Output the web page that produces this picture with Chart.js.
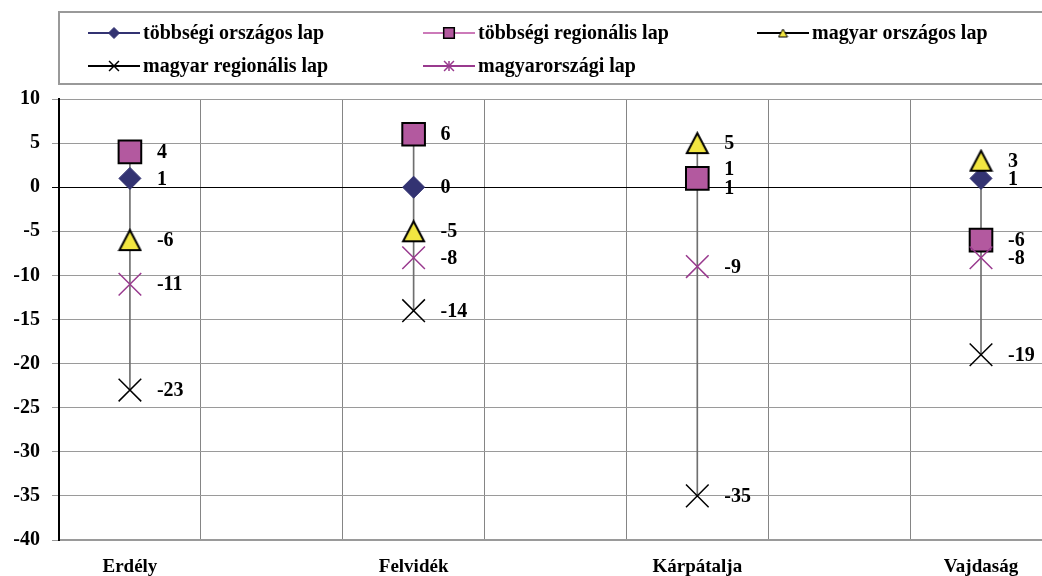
<!DOCTYPE html>
<html>
<head>
<meta charset="utf-8">
<script src="https://cdn.jsdelivr.net/npm/chart.js@4.4.1/dist/chart.umd.min.js"></script>
<style>
  html, body { margin: 0; padding: 0; background: #fff; overflow: hidden; }
  #wrap { width: 1042px; height: 576px; }
</style>
</head>
<body>
<div id="wrap"><canvas id="chart" width="1042" height="576"></canvas></div>
<script>
// ── Adatok ──────────────────────────────────────────────────────────────
const categories = ["Erdély", "Felvidék", "Kárpátalja", "Vajdaság"];
const catPos = [0.5, 2.5, 4.5, 6.5];          // kategóriák helye a rácson
const yTickValues = [-40, -35, -30, -25, -20, -15, -10, -5, 0, 5, 10];

const seriesNames = [
    "többségi országos lap",
    "többségi regionális lap",
    "magyar országos lap",
    "magyar regionális lap",
    "magyarországi lap",
];
const tobbsegiOrszagos   = [1, 0, 1, 1];
const tobbsegiRegionalis = [4, 6, 1, -6];
const magyarOrszagos     = [-6, -5, 5, 3];
const magyarRegionalis   = [-23, -14, -35, -19];
const magyarorszagi      = [-11, -8, -9, -8];

const series = [tobbsegiOrszagos, tobbsegiRegionalis, magyarOrszagos, magyarRegionalis, magyarorszagi];

// ── Stílus ──────────────────────────────────────────────────────────────
const FONT = "'Liberation Serif', 'DejaVu Serif', serif";
const NAVY = "#333372";
const PINK = "#b3599f";
const PINK_LINE = "#cc7ab9";
const YELLOW = "#f2e641";
const PURPLE = "#993a8e";

function triangleImage(w, h, lw) {
    const c = document.createElement("canvas");
    c.width = w + lw * 2;
    c.height = h + lw * 2;
    const g = c.getContext("2d");
    g.beginPath();
    g.moveTo(c.width / 2, lw);
    g.lineTo(c.width - lw, c.height - lw);
    g.lineTo(lw, c.height - lw);
    g.closePath();
    g.fillStyle = YELLOW;
    g.fill();
    g.lineWidth = lw;
    g.strokeStyle = "#000";
    g.stroke();
    return c;
}

const triBig = triangleImage(21, 20, 2);
const triSmall = triangleImage(9, 8, 1);

const toXY = (arr) => arr.map((v, i) => ({ x: catPos[i], y: v }));

// min–max (high-low) vonalak
const hiLow = categories.map((c, i) => {
    const vals = series.map((s) => s[i]);
    return { x: catPos[i], y: [Math.min(...vals), Math.max(...vals)] };
});

const pointStyles = [
    { pointStyle: "rectRot", pointRadius: 11, backgroundColor: NAVY, borderColor: NAVY, borderWidth: 1, lineColor: NAVY, legendStyle: "rectRot", legendRadius: 5.5 },
    { pointStyle: "rect", pointRadius: 16, backgroundColor: PINK, borderColor: "#000", borderWidth: 2, lineColor: PINK_LINE, legendStyle: "rect", legendRadius: 7.5 },
    { pointStyle: triBig, pointRadius: 12, backgroundColor: YELLOW, borderColor: "#000", borderWidth: 2, lineColor: "#000", legendStyle: triSmall, legendRadius: 5 },
    { pointStyle: "crossRot", pointRadius: 16, backgroundColor: "#000", borderColor: "#000", borderWidth: 1.5, lineColor: "#000", legendStyle: "crossRot", legendRadius: 7 },
    { pointStyle: "crossRot", pointRadius: 16, backgroundColor: PURPLE, borderColor: PURPLE, borderWidth: 1.5, lineColor: PURPLE, legendStyle: "star", legendRadius: 7 },
];

const datasets = series.map((s, i) => Object.assign({
    label: seriesNames[i],
    type: "scatter",
    data: toXY(s),
    xAxisID: "x",
    yAxisID: "y",
    showLine: false,
    pointHoverRadius: pointStyles[i].pointRadius,
    order: series.length - i,
}, pointStyles[i]));

datasets.push({
    label: "min-max",
    type: "bar",
    data: hiLow,
    xAxisID: "x",
    yAxisID: "y",
    barThickness: 1,
    backgroundColor: "#6f6f6f",
    borderWidth: 0,
    grouped: false,
    order: 20,
});

// ── Adatfeliratok ───────────────────────────────────────────────────────
const labelPlugin = {
    id: "pointLabels",
    afterDatasetsDraw(chart) {
        const ctx = chart.ctx;
        ctx.save();
        ctx.font = "bold 20px " + FONT;
        ctx.fillStyle = "#000";
        ctx.textBaseline = "middle";
        ctx.textAlign = "left";
        categories.forEach((c, i) => {
            const items = series.map((s, si) => {
                const el = chart.getDatasetMeta(si).data[i];
                return { x: el.x, y: el.y, text: String(s[i]), si: si };
            });
            items.sort((a, b) => a.y - b.y || b.si - a.si);
            for (let k = 1; k < items.length; k++) {
                if (items[k].y - items[k - 1].y < 15) {
                    const mid = (items[k].y + items[k - 1].y) / 2;
                    items[k - 1].y = mid - 9.5;
                    items[k].y = mid + 9.5;
                }
            }
            items.forEach((it) => ctx.fillText(it.text, it.x + 27, it.y + 1));
        });
        ctx.restore();
    },
};

// ── Jelmagyarázat ───────────────────────────────────────────────────────
const legendPlugin = {
    id: "boxLegend",
    afterDraw(chart) {
        const ctx = chart.ctx;
        const cols = [88, 423, 757];
        const rows = [33, 66];
        ctx.save();
        ctx.strokeStyle = "#999";
        ctx.lineWidth = 2;
        ctx.strokeRect(59, 12, 1042, 72);
        ctx.font = "bold 20px " + FONT;
        ctx.textBaseline = "middle";
        ctx.textAlign = "left";
        seriesNames.forEach((name, i) => {
            const st = pointStyles[i];
            const x = cols[i % 3];
            const y = rows[Math.floor(i / 3)];
            ctx.strokeStyle = st.lineColor;
            ctx.lineWidth = 2;
            ctx.beginPath();
            ctx.moveTo(x, y);
            ctx.lineTo(x + 52, y);
            ctx.stroke();
            const cx = x + 26;
            ctx.fillStyle = st.backgroundColor;
            ctx.strokeStyle = st.borderColor;
            ctx.lineWidth = st.borderWidth > 1.5 ? 1.5 : st.borderWidth;
            if (st.legendStyle === "star") {
                Chart.helpers.drawPoint(ctx, { pointStyle: "crossRot", radius: st.legendRadius, rotation: 0, borderWidth: 1.5 }, cx, y);
                ctx.beginPath();
                ctx.moveTo(cx, y - 5);
                ctx.lineTo(cx, y + 5);
                ctx.stroke();
            } else {
                Chart.helpers.drawPoint(ctx, { pointStyle: st.legendStyle, radius: st.legendRadius, rotation: 0, borderWidth: ctx.lineWidth }, cx, y);
            }
            ctx.fillStyle = "#000";
            ctx.fillText(name, x + 55, y + 1);
        });
        ctx.restore();
    },
};

// ── Diagram ─────────────────────────────────────────────────────────────
new Chart(document.getElementById("chart"), {
    type: "scatter",
    data: { datasets: datasets },
    plugins: [labelPlugin, legendPlugin],
    options: {
        responsive: false,
        animation: false,
        devicePixelRatio: 1,
        layout: { autoPadding: false, padding: { top: 99, left: 0, right: 0, bottom: 0 } },
        plugins: {
            legend: { display: false },
            tooltip: { enabled: false },
        },
        scales: {
            x: {
                type: "linear",
                position: "bottom",
                min: 0,
                max: 6.93,
                offset: false,
                afterBuildTicks: (scale) => {
                    scale.ticks = [0, 1, 2, 3, 4, 5, 6].map((v) => ({ value: v }));
                },
                afterFit: (scale) => { scale.height = 0; },
                ticks: { display: false },
                grid: { color: "#858585", lineWidth: 1, drawTicks: false, offset: false },
                border: { color: "#9a9a9a", width: 2 },
            },
            xl: {
                type: "linear",
                position: "bottom",
                min: 0,
                max: 6.93,
                offset: false,
                afterBuildTicks: (scale) => {
                    scale.ticks = catPos.map((v) => ({ value: v }));
                },
                afterFit: (scale) => { scale.height = 36; },
                ticks: {
                    autoSkip: false,
                    maxRotation: 0,
                    padding: 16,
                    color: "#000",
                    font: { family: FONT, size: 19, weight: "bold" },
                    callback: (value, index) => categories[index],
                },
                grid: { display: false, drawTicks: false },
                border: { display: false },
            },
            y: {
                type: "linear",
                min: -40,
                max: 10,
                afterBuildTicks: (scale) => {
                    scale.ticks = yTickValues.map((v) => ({ value: v }));
                },
                afterFit: (scale) => { scale.width = 59; },
                ticks: {
                    padding: 12,
                    color: "#000",
                    font: { family: FONT, size: 20, weight: "bold" },
                },
                grid: {
                    color: (c) => (c.tick && c.tick.value === 0 ? "#000" : "#9a9a9a"),
                    tickColor: (c) => (c.tick && c.tick.value === 0 ? "#000" : "#9a9a9a"),
                    lineWidth: 1,
                    tickLength: 7,
                },
                border: { color: "#000", width: 2 },
            },
        },
    },
});
</script>
</body>
</html>
